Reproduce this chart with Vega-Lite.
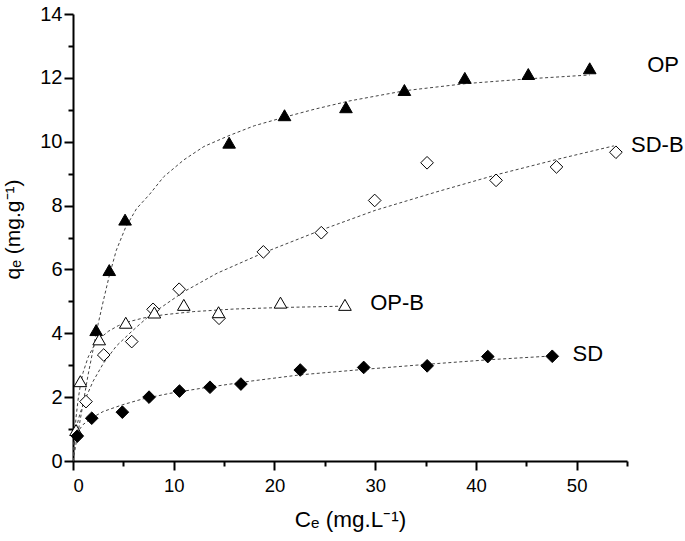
{
  "$schema": "https://vega.github.io/schema/vega-lite/v6.json",
  "width": 554,
  "height": 447,
  "autosize": {"type": "none"},
  "padding": {"left": 73, "top": 14, "right": 58, "bottom": 80},
  "background": "white",
  "config": {"view": {"stroke": null}, "font": "Liberation Sans"},
  "datasets": {
    "pts": [
      {"series": "OP", "x": 2.3, "y": 4.1}, {"series": "OP", "x": 3.6, "y": 5.98}, {"series": "OP", "x": 5.17, "y": 7.56},
      {"series": "OP", "x": 15.5, "y": 9.97}, {"series": "OP", "x": 21.0, "y": 10.83}, {"series": "OP", "x": 27.1, "y": 11.08},
      {"series": "OP", "x": 32.9, "y": 11.62}, {"series": "OP", "x": 38.9, "y": 12.0}, {"series": "OP", "x": 45.2, "y": 12.12},
      {"series": "OP", "x": 51.3, "y": 12.3},
      {"series": "SD-B", "x": 1.29, "y": 1.86}, {"series": "SD-B", "x": 3.05, "y": 3.32}, {"series": "SD-B", "x": 5.83, "y": 3.74},
      {"series": "SD-B", "x": 7.95, "y": 4.75}, {"series": "SD-B", "x": 10.54, "y": 5.38}, {"series": "SD-B", "x": 14.5, "y": 4.47},
      {"series": "SD-B", "x": 18.9, "y": 6.55}, {"series": "SD-B", "x": 24.65, "y": 7.15}, {"series": "SD-B", "x": 29.95, "y": 8.16},
      {"series": "SD-B", "x": 35.15, "y": 9.34}, {"series": "SD-B", "x": 42.0, "y": 8.79}, {"series": "SD-B", "x": 48.0, "y": 9.21},
      {"series": "SD-B", "x": 53.9, "y": 9.67},
      {"series": "OP-B", "x": 0.3, "y": 0.97}, {"series": "OP-B", "x": 0.73, "y": 2.5}, {"series": "OP-B", "x": 2.6, "y": 3.81},
      {"series": "OP-B", "x": 5.24, "y": 4.33}, {"series": "OP-B", "x": 8.08, "y": 4.65}, {"series": "OP-B", "x": 11.0, "y": 4.89},
      {"series": "OP-B", "x": 14.45, "y": 4.66}, {"series": "OP-B", "x": 20.6, "y": 4.96}, {"series": "OP-B", "x": 27.0, "y": 4.89},
      {"series": "SD", "x": 0.43, "y": 0.78}, {"series": "SD", "x": 1.86, "y": 1.34}, {"series": "SD", "x": 4.9, "y": 1.53},
      {"series": "SD", "x": 7.55, "y": 2.0}, {"series": "SD", "x": 10.57, "y": 2.19}, {"series": "SD", "x": 13.6, "y": 2.31},
      {"series": "SD", "x": 16.67, "y": 2.41}, {"series": "SD", "x": 22.56, "y": 2.85}, {"series": "SD", "x": 28.86, "y": 2.93},
      {"series": "SD", "x": 35.16, "y": 2.98}, {"series": "SD", "x": 41.18, "y": 3.27}, {"series": "SD", "x": 47.58, "y": 3.28}
    ],
    "fit": [
      {"series": "OP", "x": 0, "y": 0}, {"series": "OP", "x": 0.5, "y": 0.9}, {"series": "OP", "x": 1, "y": 1.8},
      {"series": "OP", "x": 1.5, "y": 2.7}, {"series": "OP", "x": 2, "y": 3.5}, {"series": "OP", "x": 2.5, "y": 4.3},
      {"series": "OP", "x": 3, "y": 5.0}, {"series": "OP", "x": 3.6, "y": 5.8}, {"series": "OP", "x": 4.3, "y": 6.6},
      {"series": "OP", "x": 5.2, "y": 7.3}, {"series": "OP", "x": 6.3, "y": 7.9}, {"series": "OP", "x": 7.6, "y": 8.35},
      {"series": "OP", "x": 9, "y": 8.9}, {"series": "OP", "x": 11, "y": 9.43}, {"series": "OP", "x": 13, "y": 9.85},
      {"series": "OP", "x": 15.4, "y": 10.18}, {"series": "OP", "x": 18, "y": 10.5}, {"series": "OP", "x": 20.9, "y": 10.76},
      {"series": "OP", "x": 24, "y": 11.02}, {"series": "OP", "x": 27.5, "y": 11.28}, {"series": "OP", "x": 33, "y": 11.6},
      {"series": "OP", "x": 39, "y": 11.82}, {"series": "OP", "x": 45.2, "y": 11.97}, {"series": "OP", "x": 51.3, "y": 12.09},
      {"series": "SD-B", "x": 0, "y": 0}, {"series": "SD-B", "x": 0.3, "y": 1.0}, {"series": "SD-B", "x": 0.7, "y": 1.5},
      {"series": "SD-B", "x": 1.3, "y": 2.0}, {"series": "SD-B", "x": 2, "y": 2.5}, {"series": "SD-B", "x": 3, "y": 3.05},
      {"series": "SD-B", "x": 4.3, "y": 3.6}, {"series": "SD-B", "x": 5.8, "y": 4.05}, {"series": "SD-B", "x": 7.65, "y": 4.57},
      {"series": "SD-B", "x": 11, "y": 5.3}, {"series": "SD-B", "x": 14.3, "y": 5.88}, {"series": "SD-B", "x": 18.9, "y": 6.52},
      {"series": "SD-B", "x": 24.7, "y": 7.24}, {"series": "SD-B", "x": 30, "y": 7.85}, {"series": "SD-B", "x": 36, "y": 8.42},
      {"series": "SD-B", "x": 42.1, "y": 8.97}, {"series": "SD-B", "x": 48.1, "y": 9.45}, {"series": "SD-B", "x": 53.7, "y": 9.87},
      {"series": "OP-B", "x": 0, "y": 0}, {"series": "OP-B", "x": 0.15, "y": 0.78}, {"series": "OP-B", "x": 0.3, "y": 1.36},
      {"series": "OP-B", "x": 0.5, "y": 1.91}, {"series": "OP-B", "x": 0.75, "y": 2.41}, {"series": "OP-B", "x": 1, "y": 2.77},
      {"series": "OP-B", "x": 1.5, "y": 3.25}, {"series": "OP-B", "x": 2, "y": 3.56}, {"series": "OP-B", "x": 2.6, "y": 3.82},
      {"series": "OP-B", "x": 3.5, "y": 4.06}, {"series": "OP-B", "x": 4.5, "y": 4.24}, {"series": "OP-B", "x": 5.5, "y": 4.36},
      {"series": "OP-B", "x": 7, "y": 4.48}, {"series": "OP-B", "x": 9, "y": 4.58}, {"series": "OP-B", "x": 12, "y": 4.68},
      {"series": "OP-B", "x": 16, "y": 4.76}, {"series": "OP-B", "x": 21, "y": 4.81}, {"series": "OP-B", "x": 27, "y": 4.85},
      {"series": "SD", "x": 0, "y": 0}, {"series": "SD", "x": 0.05, "y": 0.5}, {"series": "SD", "x": 0.2, "y": 0.73},
      {"series": "SD", "x": 0.43, "y": 0.9}, {"series": "SD", "x": 1, "y": 1.14}, {"series": "SD", "x": 1.86, "y": 1.35},
      {"series": "SD", "x": 3, "y": 1.55}, {"series": "SD", "x": 4.9, "y": 1.76}, {"series": "SD", "x": 7, "y": 1.95},
      {"series": "SD", "x": 9.64, "y": 2.12}, {"series": "SD", "x": 13, "y": 2.29}, {"series": "SD", "x": 17.6, "y": 2.5},
      {"series": "SD", "x": 22.6, "y": 2.7}, {"series": "SD", "x": 28.9, "y": 2.87}, {"series": "SD", "x": 35.2, "y": 3.03},
      {"series": "SD", "x": 41.2, "y": 3.17}, {"series": "SD", "x": 47.6, "y": 3.29}
    ],
    "labels": [
      {"label": "OP", "x": 57.0, "y": 12.4},
      {"label": "SD-B", "x": 55.4, "y": 9.9},
      {"label": "OP-B", "x": 29.5, "y": 4.95},
      {"label": "SD", "x": 49.6, "y": 3.35}
    ]
  },
  "resolve": {"axis": {"x": "independent", "y": "independent"}},
  "layer": [
    {
      "data": {"name": "fit"},
      "mark": {"type": "line", "strokeDash": [3, 2.5], "strokeWidth": 1, "color": "#444444", "clip": true},
      "encoding": {
        "x": {"field": "x", "type": "quantitative", "scale": {"domain": [0, 55], "nice": false},
          "axis": {"orient": "bottom", "values": [5, 15, 25, 35, 45, 55], "labels": false, "domain": false, "grid": false, "tickSize": 5, "tickWidth": 2, "tickColor": "black", "title": null}},
        "y": {"field": "y", "type": "quantitative", "scale": {"domain": [0, 14], "nice": false},
          "axis": {"orient": "left", "values": [1, 3, 5, 7, 9, 11, 13], "labels": false, "domain": false, "grid": false, "tickSize": 5, "tickWidth": 2, "tickColor": "black", "title": null}},
        "detail": {"field": "series"}
      }
    },
    {
      "data": {"name": "pts"},
      "mark": {"type": "point", "filled": true, "stroke": "black", "strokeWidth": 1, "size": 160, "opacity": 1},
      "encoding": {
        "x": {"field": "x", "type": "quantitative", "scale": {"domain": [0, 55], "nice": false},
          "axis": {"orient": "bottom", "values": [0, 10, 20, 30, 40, 50], "grid": false, "domainColor": "black", "domainWidth": 2, "tickColor": "black", "tickWidth": 2, "tickSize": 9, "labelFontSize": 18.5, "labelColor": "black", "labelPadding": 6, "title": "Cₑ (mg.L⁻¹)", "titleFontSize": 22.5, "titleFontWeight": "normal", "titleColor": "black", "titlePadding": 14}},
        "y": {"field": "y", "type": "quantitative", "scale": {"domain": [0, 14], "nice": false},
          "axis": {"orient": "left", "values": [0, 2, 4, 6, 8, 10, 12, 14], "grid": false, "domainColor": "black", "domainWidth": 2, "tickColor": "black", "tickWidth": 2, "tickSize": 9, "labelFontSize": 20, "labelColor": "black", "labelPadding": 2, "title": "qₑ (mg.g⁻¹)", "titleFontSize": 21, "titleFontWeight": "normal", "titleColor": "black", "titleX": -50, "titleY": 215, "titleBaseline": "bottom"}},
        "shape": {"field": "series", "type": "nominal", "scale": {"domain": ["OP", "OP-B", "SD", "SD-B"], "range": ["triangle-up", "triangle-up", "diamond", "diamond"]}, "legend": null},
        "fill": {"field": "series", "type": "nominal", "scale": {"domain": ["OP", "OP-B", "SD", "SD-B"], "range": ["black", "white", "black", "white"]}, "legend": null}
      }
    },
    {
      "data": {"name": "labels"},
      "mark": {"type": "text", "align": "left", "baseline": "middle", "fontSize": 22, "color": "black", "clip": false},
      "encoding": {
        "x": {"field": "x", "type": "quantitative", "axis": null},
        "y": {"field": "y", "type": "quantitative", "axis": null},
        "text": {"field": "label"}
      }
    }
  ]
}
